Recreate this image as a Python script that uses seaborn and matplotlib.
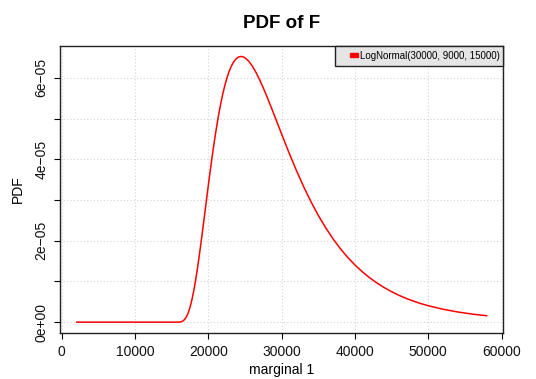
import numpy as np
import pandas as pd
import matplotlib
matplotlib.use("Agg")
import matplotlib.pyplot as plt
import matplotlib.patches as mpatches
from matplotlib.legend_handler import HandlerPatch
import seaborn as sns

# values
marginal = [2000, 4000, 6000, 8000, 10000, 12000, 14000, 15000, 16000, 16250,
            16500, 16750, 17000, 17250, 17500, 17750, 18000, 18250, 18500, 18750,
            19000, 19250, 19500, 19750, 20000, 20250, 20500, 20750, 21000, 21250,
            21500, 21750, 22000, 22250, 22500, 22750, 23000, 23250, 23500, 23750,
            24000, 24250, 24500, 24750, 25000, 25500, 26000, 26500, 27000, 27500,
            28000, 28500, 29000, 29500, 30000, 30500, 31000, 32000, 33000, 34000,
            35000, 36000, 37000, 38000, 39000, 40000, 41000, 42000, 43000, 44000,
            45000, 46000, 47000, 48000, 49000, 50000, 52000, 54000, 56000, 58000]
pdf = [0, 0, 0, 0, 0, 0, 0, 0, 0.0002e-5, 0.008e-5,
       0.026e-5, 0.064e-5, 0.129e-5, 0.228e-5, 0.367e-5, 0.546e-5, 0.765e-5, 1.020e-5, 1.308e-5, 1.622e-5,
       1.957e-5, 2.305e-5, 2.660e-5, 3.016e-5, 3.369e-5, 3.713e-5, 4.045e-5, 4.361e-5, 4.658e-5, 4.934e-5,
       5.190e-5, 5.422e-5, 5.630e-5, 5.815e-5, 5.977e-5, 6.116e-5, 6.232e-5, 6.328e-5, 6.403e-5, 6.459e-5,
       6.497e-5, 6.518e-5, 6.523e-5, 6.513e-5, 6.490e-5, 6.408e-5, 6.285e-5, 6.130e-5, 5.949e-5, 5.748e-5,
       5.533e-5, 5.309e-5, 5.079e-5, 4.847e-5, 4.615e-5, 4.386e-5, 4.161e-5, 3.729e-5, 3.326e-5, 2.956e-5,
       2.620e-5, 2.318e-5, 2.047e-5, 1.806e-5, 1.592e-5, 1.403e-5, 1.237e-5, 1.090e-5, 0.961e-5, 0.847e-5,
       0.747e-5, 0.659e-5, 0.582e-5, 0.515e-5, 0.455e-5, 0.403e-5, 0.317e-5, 0.250e-5, 0.197e-5, 0.157e-5]
series_label = "LogNormal(30000, 9000, 15000)"
x_ticks = [0, 10000, 20000, 30000, 40000, 50000, 60000]
y_ticks = [0, 1e-5, 2e-5, 3e-5, 4e-5, 5e-5, 6e-5]
y_tick_labels = ["0e+00", "", "2e\u221205", "", "4e\u221205", "", "6e\u221205"]

df = pd.DataFrame({"marginal 1": marginal, "PDF": pdf})

sns.set_theme(style="white")
plt.rcParams["font.family"] = ["Liberation Sans", "DejaVu Sans"]
plt.rcParams["text.color"] = "black"
plt.rcParams["axes.labelcolor"] = "black"

fig = plt.figure(figsize=(5.36, 3.79), dpi=100)
ax = fig.add_axes([0.112, 0.122, 0.827, 0.757])

sns.lineplot(data=df, x="marginal 1", y="PDF", color="red", linewidth=1.1,
             legend=False, ax=ax)

# R style expanded limits (4%)
xr = max(marginal) - min(marginal)
ax.set_xlim(min(marginal) - 0.04 * xr, max(marginal) + 0.04 * xr)
yr = max(pdf)
ax.set_ylim(-0.04 * yr, yr * 1.04)

ax.set_xticks(x_ticks)
ax.set_xticklabels([str(t) for t in x_ticks])
ax.set_yticks(y_ticks)
ax.set_yticklabels(y_tick_labels, rotation=90, va="center")

ax.grid(True, color="#d4d4d4", linestyle=(0, (1, 2)), linewidth=0.8)
ax.tick_params(axis="both", direction="out", length=4.5, width=0.8, color="black",
               labelsize=10, labelcolor="#111111", bottom=True, left=True)
ax.tick_params(axis="x", pad=4)
ax.tick_params(axis="y", pad=4)
for s in ax.spines.values():
    s.set_color("#222222")
    s.set_linewidth(1.0)

ax.set_xlabel("marginal 1", fontsize=10, labelpad=3)
ax.set_ylabel("PDF", fontsize=10, labelpad=7)
ax.set_title("PDF of F", fontsize=13.5, fontweight="bold", pad=13)


def small_rect(legend, orig_handle, xdescent, ydescent, width, height, fontsize):
    w, h = 6.0, 2.6
    return mpatches.Rectangle((width - w - xdescent, (height - h) / 2 - ydescent + 0.8), w, h)


handle = mpatches.Patch(color="red", label=series_label)
leg = ax.legend(handles=[handle], loc="upper right", fontsize=7, frameon=True,
                fancybox=False, borderaxespad=0, handlelength=1.95, handleheight=1.6,
                handletextpad=0.15, borderpad=0.4,
                handler_map={mpatches.Patch: HandlerPatch(patch_func=small_rect)})
leg.get_frame().set_facecolor("#e5e5e5")
leg.get_frame().set_edgecolor("#222222")
leg.get_frame().set_linewidth(1.0)
leg.get_frame().set_alpha(1)

fig.savefig("out.png", dpi=100)
